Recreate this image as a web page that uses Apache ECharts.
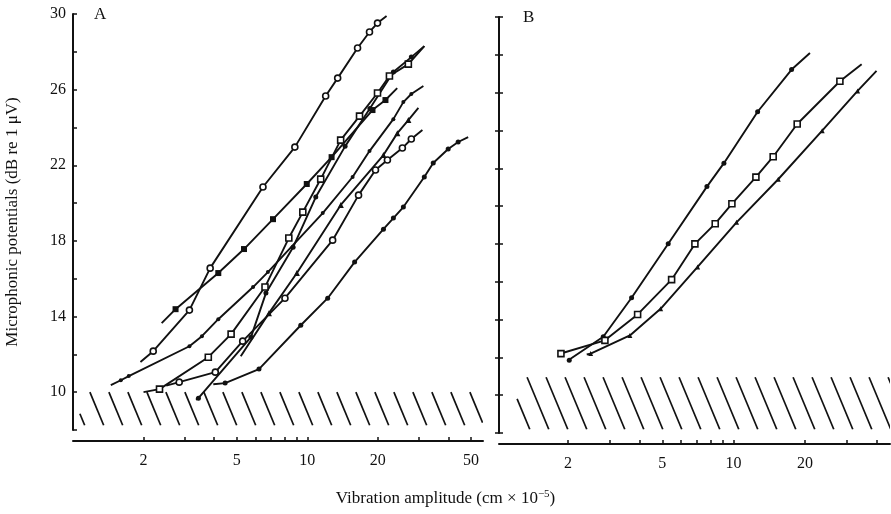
<!DOCTYPE html>
<html><head><meta charset="utf-8">
<script src="https://cdn.jsdelivr.net/npm/echarts@6/dist/echarts.min.js"></script>
<style>html,body{margin:0;padding:0;background:#fff}#c{width:891px;height:514px}</style>
</head><body><div id="c"></div>
<script>
// Each curve: [vibration amplitude (cm x 10^-5), microphonic potential (dB re 1 uV)]
// The first and last pair of each curve mark where its drawn line begins / ends (no marker there).

// ---- Panel A ----
const curveA_openCircle1 = [[1.94,11.6],[2.2,12.17],[3.14,14.34],[3.85,16.56],[6.47,20.85],[8.85,22.96],[11.98,25.66],[13.48,26.61],[16.39,28.2],[18.43,29.05],[19.94,29.52],[21.8,29.9]];
const curveA_filledSquare = [[2.39,13.65],[2.74,14.39],[4.17,16.3],[5.37,17.57],[7.14,19.15],[9.95,21.01],[12.7,22.43],[18.98,24.92],[21.56,25.45],[24.2,26.08]];
const curveA_smallDot = [[1.45,10.37],[1.6,10.63],[1.73,10.85],[3.14,12.43],[3.55,12.96],[4.17,13.86],[5.87,15.56],[6.79,16.35],[11.64,19.47],[15.61,21.38],[18.43,22.75],[23.3,24.44],[25.7,25.34],[27.8,25.77],[31.3,26.19]];
const curveA_filledDot1 = [[3.97,10.42],[4.46,10.48],[6.22,11.22],[9.38,13.54],[12.22,14.97],[15.92,16.88],[21.14,18.62],[23.31,19.21],[25.71,19.79],[31.58,21.38],[34.48,22.12],[39.94,22.86],[44.05,23.23],[48.6,23.49]];
const curveA_openSquare = [[2.0,10.0],[2.34,10.16],[3.78,11.85],[4.73,13.07],[6.6,15.56],[8.34,18.15],[9.57,19.52],[11.41,21.27],[13.88,23.33],[16.71,24.6],[19.94,25.82],[22.42,26.72],[27.0,27.35],[31.6,28.3]];
const curveA_openCircle2 = [[2.5,10.35],[2.84,10.53],[4.05,11.06],[5.3,12.7],[8.03,14.97],[12.83,18.04],[16.55,20.42],[19.55,21.75],[21.98,22.28],[25.46,22.91],[27.8,23.39],[31.0,23.86]];
const curveA_triangle = [[5.2,11.9],[6.86,14.18],[9.03,16.3],[13.9,19.9],[21.14,22.54],[24.24,23.7],[27.0,24.39],[29.8,25.03]];
const curveA_filledDot2 = [[3.35,9.6],[3.43,9.68],[5.75,12.91],[6.66,15.24],[8.7,17.67],[10.87,20.32],[14.5,23.0],[18.5,25.0],[23.3,26.93],[27.8,27.72],[31.6,28.3]];

// ---- Panel B ----
const curveB_filledDot = [[2.0,11.83],[2.025,11.85],[2.818,13.09],[3.711,15.15],[5.298,18.01],[7.717,21.03],[9.101,22.27],[12.63,24.99],[17.57,27.22],[21.0,28.1]];
const curveB_openSquare = [[1.85,12.19],[1.868,12.2],[2.864,12.9],[3.935,14.27],[5.475,16.11],[6.866,18.0],[8.364,19.07],[9.836,20.12],[12.42,21.53],[14.69,22.61],[18.55,24.34],[28.09,26.6],[34.7,27.5]];
const curveB_triangle = [[2.4,12.15],[2.493,12.2],[3.651,13.16],[4.92,14.57],[7.05,16.78],[10.29,19.14],[15.43,21.42],[23.65,23.99],[33.37,26.09],[40.1,27.15]];

// noise-floor (hatched) bands: [amp from, amp to, dB top, dB bottom]
const noiseBandA = [1.07, 56, 10, 8.25];
const noiseBandB = [1.22, 46, 10.95, 8.2];

// axis ticks
const xTicksA = [2,3,4,5,6,7,8,9,10,20,30,40,50];
const xLabelsA = [2,5,10,20,50];
const xTicksB = [2,3,4,5,6,7,8,9,10,20,30,40];
const xLabelsB = [2,5,10,20];
const yLabels = [10,14,18,22,26,30];

const FONT = 'Liberation Serif';
const INK = '#111';
const lg = Math.log10;

function xAxis(gridIndex, min, max, ticks, labels) {
  return {
    type: 'value', gridIndex, min, max, offset: 11,
    axisLine: { lineStyle: { color: INK, width: 2 } },
    axisTick: { inside: true, length: 4, customValues: ticks.map(lg), lineStyle: { color: INK, width: 1.5 } },
    axisLabel: { customValues: labels.map(lg), formatter: v => String(Math.round(Math.pow(10, v))),
                 fontFamily: FONT, fontSize: 16, color: INK, margin: 12 },
    splitLine: { show: false }
  };
}
function yAxis(gridIndex, showLabels, inside) {
  return {
    type: 'value', gridIndex, position: 'left', min: 8, max: 30, interval: 2,
    axisLine: { show: true, lineStyle: { color: INK, width: 2 } },
    axisTick: { show: true, inside, length: 4, lineStyle: { color: INK, width: 1.5 } },
    axisLabel: { show: showLabels, fontFamily: FONT, fontSize: 16, color: INK, margin: 7,
                 formatter: v => yLabels.includes(v) ? String(v) : '' },
    splitLine: { show: false }
  };
}

function curve(pts, axisIdx, symbol, filled, size) {
  const last = pts.length - 1;
  return {
    type: 'line', xAxisIndex: axisIdx, yAxisIndex: axisIdx, z: 3,
    data: pts.map((p, i) => (i === 0 || i === last) ? { value: [lg(p[0]), p[1]], symbol: 'none' } : [lg(p[0]), p[1]]),
    symbol, symbolSize: size, showAllSymbol: true,
    lineStyle: { color: INK, width: 1.9 },
    itemStyle: { color: filled ? INK : '#fff', borderColor: INK, borderWidth: filled ? 0 : 1.6 },
    emphasis: { disabled: true }, animation: false
  };
}

function hatch(axisIdx, band) {
  return {
    type: 'custom', xAxisIndex: axisIdx, yAxisIndex: axisIdx, silent: true, clip: true, z: 1,
    data: [[lg(band[0]), band[2], lg(band[1]), band[3]]],
    encode: { x: [0, 2], y: [1, 3] },
    renderItem(params, api) {
      const p0 = api.coord([api.value(0), api.value(1)]);
      const p1 = api.coord([api.value(2), api.value(3)]);
      const left = p0[0], top = p0[1], right = p1[0], bottom = p1[1];
      const slope = 2.4, step = 19, h = bottom - top, dx = h / slope;
      const children = [];
      for (let xt = left + 10 - Math.ceil(dx / step) * step; xt < right; xt += step) {
        let x1 = xt, y1 = top, x2 = xt + dx, y2 = bottom;
        if (x1 < left) { y1 = top + (left - xt) * slope; x1 = left; }
        if (x2 > right) { y2 = top + (right - xt) * slope; x2 = right; }
        if (y2 - y1 < 5) continue;
        children.push({ type: 'line', shape: { x1, y1, x2, y2 }, style: { stroke: INK, lineWidth: 1.7 } });
      }
      return { type: 'group', children };
    }
  };
}

const chart = echarts.init(document.getElementById('c'), null, { renderer: 'canvas' });
chart.setOption({
  backgroundColor: '#fff',
  animation: false,
  textStyle: { fontFamily: FONT },
  title: {
    text: 'Vibration amplitude (cm × 10{sup|−5})', left: 'center', top: 484,
    textStyle: { fontFamily: FONT, fontSize: 17, fontWeight: 'normal', color: INK,
      rich: { sup: { fontFamily: FONT, fontSize: 11, verticalAlign: 'top', padding: [0, 0, 9, 0], color: INK } } }
  },
  graphic: [
    { type: 'text', left: 94, top: 6, style: { text: 'A', font: '17px "Liberation Serif"', fill: INK } },
    { type: 'text', left: 523, top: 9, style: { text: 'B', font: '17px "Liberation Serif"', fill: INK } }
  ],
  grid: [
    { left: 73, top: 14, width: 410, height: 416 },
    { left: 499, top: 17, width: 391, height: 416 }
  ],
  xAxis: [
    xAxis(0, 0, 1.75, xTicksA, xLabelsA),
    xAxis(1, 0.01, 1.66, xTicksB, xLabelsB)
  ],
  yAxis: [
    Object.assign(yAxis(0, true, true), {
      name: 'Microphonic potentials (dB re 1 μV)', nameLocation: 'middle', nameRotate: 90, nameGap: 52,
      nameTextStyle: { fontFamily: FONT, fontSize: 17, color: INK }
    }),
    yAxis(1, false, true),
    Object.assign(yAxis(1, false, false), { axisLine: { show: false }, offset: 0 })
  ],
  series: [
    hatch(0, noiseBandA),
    hatch(1, noiseBandB),
    curve(curveA_smallDot, 0, 'circle', true, 4),
    curve(curveA_filledDot1, 0, 'circle', true, 5),
    curve(curveA_filledDot2, 0, 'circle', true, 5),
    curve(curveA_triangle, 0, 'triangle', true, 6),
    curve(curveA_filledSquare, 0, 'rect', true, 6),
    curve(curveA_openSquare, 0, 'rect', false, 6),
    curve(curveA_openCircle2, 0, 'circle', false, 6),
    curve(curveA_openCircle1, 0, 'circle', false, 6),
    curve(curveB_filledDot, 1, 'circle', true, 5),
    curve(curveB_openSquare, 1, 'rect', false, 6),
    curve(curveB_triangle, 1, 'triangle', true, 5)
  ]
});
</script></body></html>
